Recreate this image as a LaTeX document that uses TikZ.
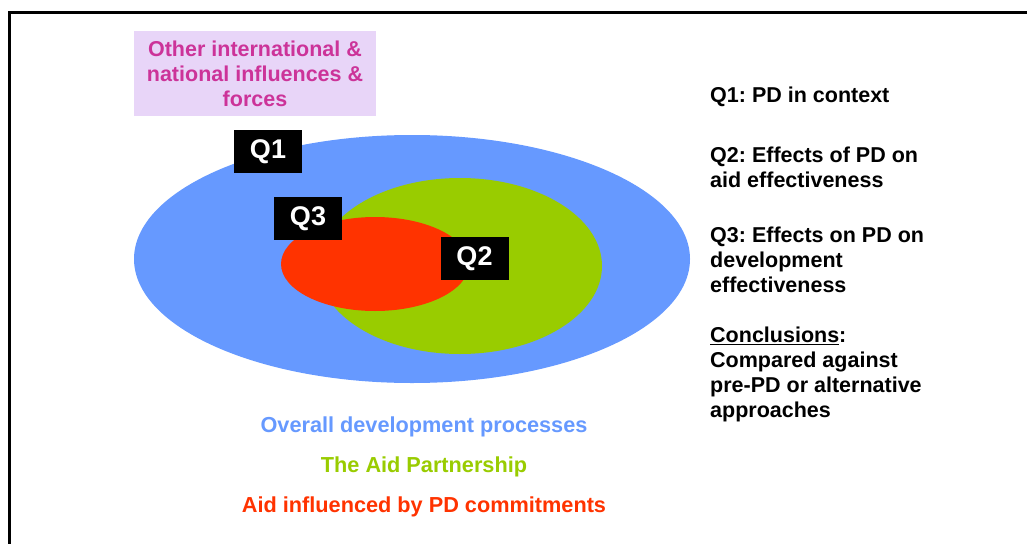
\documentclass[tikz,border=0pt]{standalone}
\usepackage{fontspec}
\setmainfont{Liberation Sans}
\usetikzlibrary{shapes.geometric}
\definecolor{cblue}{HTML}{6699FF}
\definecolor{cgreen}{HTML}{99CC00}
\definecolor{cred}{HTML}{FF3300}
\definecolor{cpinkbg}{HTML}{E8D5F8}
\definecolor{cpinktx}{HTML}{CC3399}
\frenchspacing
\begin{document}
\begin{tikzpicture}[x=1pt,y=-1pt,
  qbox/.style={fill=black,text=white,font=\fontsize{27}{30}\selectfont\bfseries,minimum width=68pt,minimum height=43pt,inner sep=0pt},
  rtext/.style={anchor=north west,align=left,inner sep=0pt,font=\fontsize{21.5}{25}\selectfont\bfseries},
  legend/.style={font=\fontsize{21.7}{24}\selectfont\bfseries,inner sep=0pt}]
\useasboundingbox (0,0) rectangle (1027,543);
\fill[white] (0,0) rectangle (1027,543);
\draw[line width=2.5pt] (1030,12.5) -- (9.5,12.5) -- (9.5,546);
% pink box
\node[fill=cpinkbg,minimum width=242pt,minimum height=85pt,inner sep=0pt,text=cpinktx,align=center,font=\fontsize{21.5}{25}\selectfont\bfseries] (infl) at (255,73.5) {Other international \&\\national influences \&\\forces};
% ellipses
\node[ellipse,fill=cblue,minimum width=556pt,minimum height=248pt,inner sep=0pt] (overall) at (412,259) {};
\node[ellipse,fill=cgreen,minimum width=284pt,minimum height=176pt,inner sep=0pt] (aidp) at (460,266) {};
\node[ellipse,fill=cred,minimum width=188pt,minimum height=94pt,inner sep=0pt] (aidpd) at (375,264) {};
% Q boxes
\node[qbox] (q1) at (268,151.5) {Q1};
\node[qbox] (q3) at (308,218.5) {Q3};
\node[qbox] (q2) at (474.5,258.5) {Q2};
% right text
\node[rtext] (t1) at (710,87) {Q1: PD in context};
\node[rtext] (t2) at (710,147) {Q2: Effects of PD on\\aid effectiveness};
\node[rtext] (t3) at (710,227) {Q3: Effects on PD on\\development\\effectiveness};
\node[rtext] (t4) at (710,327) {\underline{Conclusions}:\\Compared against\\pre-PD or alternative\\approaches};
% legend
\node[legend,text=cblue] (l1) at (424,427) {Overall development processes};
\node[legend,text=cgreen] (l2) at (424,467) {The Aid Partnership};
\node[legend,text=cred] (l3) at (424,507) {Aid influenced by PD commitments};
\end{tikzpicture}
\end{document}
